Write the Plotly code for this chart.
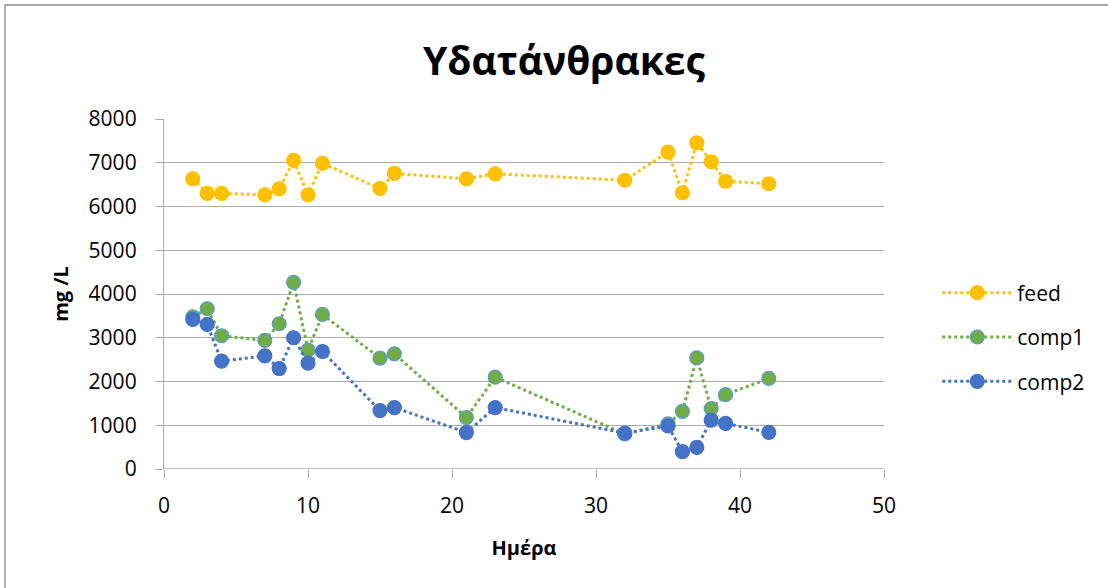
import plotly.graph_objects as go

days = [2, 3, 4, 7, 8, 9, 10, 11, 15, 16, 21, 23, 32, 35, 36, 37, 38, 39, 42]
feed = [6634, 6298, 6298, 6268, 6405, 7053, 6268, 6985, 6412, 6755, 6634, 6748,
        6600, 7243, 6314, 7457, 7023, 6577, 6520]
comp1 = [3480, 3663, 3046, 2938, 3320, 4265, 2716, 3533, 2533, 2634, 1176, 2098,
         800, 1030, 1318, 2540, 1381, 1700, 2071]
comp2 = [3419, 3304, 2465, 2588, 2297, 3000, 2420, 2686, 1336, 1405, 833, 1405,
         820, 985, 396, 494, 1117, 1041, 838]

names = ["feed", "comp1", "comp2"]
colors = ["#FFC000", "#70AD47", "#4472C4"]
outlines = ["#FFC000", "#5B9BD5", "#4472C4"]

FONT = "Open Sans, Noto Sans, sans-serif"
GRID = "#ABABAB"

fig = go.Figure()
for name, vals, c, oc in zip(names, [feed, comp1, comp2], colors, outlines):
    fig.add_trace(go.Scatter(
        x=days, y=vals, name=name, legendgroup=name, mode="lines+markers",
        line=dict(color=c, width=3, dash="dot"),
        marker=dict(color=c, size=14, line=dict(color=oc, width=1.2)),
    ))

fig.update_layout(
    width=1108, height=588,
    paper_bgcolor="white", plot_bgcolor="white",
    margin=dict(l=164, r=224, t=119, b=119),
    font=dict(family=FONT, size=20, color="black"),
    title=dict(text="<b>Υδατάνθρακες</b>", x=0.509, xanchor="center",
               y=0.895, yanchor="middle", font=dict(size=39, family=FONT)),
    showlegend=True,
    legend=dict(x=1.074, y=0.377, xanchor="left", yanchor="middle",
                font=dict(size=21), itemwidth=70, tracegroupgap=14,
                bgcolor="rgba(0,0,0,0)"),
    xaxis=dict(range=[0, 50], dtick=10, tick0=0, showgrid=False, zeroline=False,
               showline=False, ticks="outside", ticklen=8, tickcolor=GRID,
               tickwidth=1.3, tickfont=dict(size=21), ticklabelstandoff=10,
               title=dict(text="<b>Ημέρα</b>", font=dict(size=20), standoff=22)),
    yaxis=dict(range=[0, 8000], dtick=1000, tick0=0, showgrid=True,
               gridcolor=GRID, gridwidth=1.3, zeroline=False,
               showline=True, linecolor=GRID, linewidth=1.3,
               ticks="outside", ticklen=8, tickcolor=GRID, tickwidth=1.3,
               tickfont=dict(size=21), ticklabelstandoff=14,
               title=dict(text="<b>mg /L</b>", font=dict(size=20), standoff=14)),
)

fig.add_shape(type="line", xref="paper", yref="y", x0=0, x1=1, y0=0, y1=0,
              line=dict(color=GRID, width=1.3))
fig.add_shape(type="rect", xref="paper", yref="paper",
              x0=-0.2208, x1=1.40, y0=-0.45, y1=1.3257,
              line=dict(color="#8C8C8C", width=1.3))

fig.write_html("out.html", config={"displayModeBar": False},
               post_script="document.body.style.margin='0';document.body.style.overflow='hidden';")
